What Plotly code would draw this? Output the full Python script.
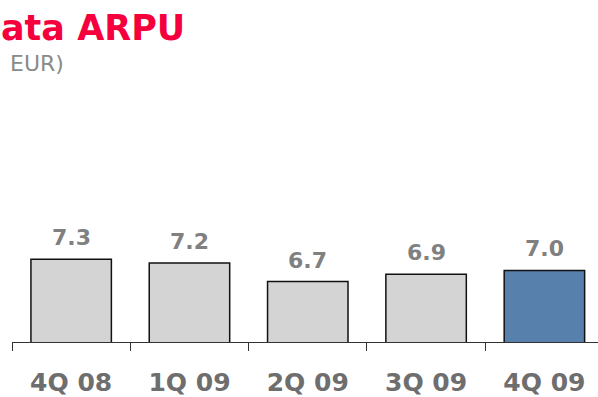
import plotly.graph_objects as go

# ─── 数据 ───────────────────────────────────
quarters = ["4Q 08", "1Q 09", "2Q 09", "3Q 09", "4Q 09"]
arpu = [7.3, 7.2, 6.7, 6.9, 7.0]
labels = ["7.3", "7.2", "6.7", "6.9", "7.0"]
colors = ["#D4D4D4", "#D4D4D4", "#D4D4D4", "#D4D4D4", "#5781AC"]

W, H = 598, 397
ML, MR, MT, MB = 12, 0, 97, 51
pw = W - ML - MR
ph = H - MT - MB

fig = go.Figure()
fig.add_trace(go.Bar(
    x=quarters,
    y=arpu,
    width=0.68,
    marker=dict(color=colors, line=dict(color="#111111", width=1.5)),
    hoverinfo="skip",
))

# 数值标签
for q, v, t in zip(quarters, arpu, labels):
    fig.add_annotation(
        x=q, y=v, text=t, showarrow=False,
        xanchor="center", yanchor="bottom", yshift=7,
        font=dict(family="DejaVu Sans", size=22, color="#808080", weight="bold"),
    )

# 标题（原图左侧被截断，只保留可见部分）
fig.add_annotation(
    xref="paper", yref="paper",
    x=(-1 - ML) / pw, y=(H - MB - 27) / ph,
    text="<b>ata ARPU</b>", showarrow=False,
    xanchor="left", yanchor="middle",
    font=dict(family="DejaVu Sans", size=35, color="#F5003D"),
)
fig.add_annotation(
    xref="paper", yref="paper",
    x=(8 - ML) / pw, y=(H - MB - 63) / ph,
    text="EUR)", showarrow=False,
    xanchor="left", yanchor="middle",
    font=dict(family="DejaVu Sans", size=22, color="#8A8A8A"),
)

fig.update_layout(
    width=W, height=H,
    margin=dict(l=ML, r=MR, t=MT, b=MB),
    paper_bgcolor="white",
    plot_bgcolor="white",
    showlegend=False,
)
fig.update_xaxes(
    range=[-0.5, 4.453],
    showline=True, linecolor="#333333", linewidth=1,
    ticks="outside", tickson="boundaries", ticklen=8, tickcolor="#333333",
    tickfont=dict(family="DejaVu Sans", size=25, color="#6E6E6E", weight="bold"),
    ticklabelstandoff=18,
    showgrid=False,
)
fig.update_yaxes(
    range=[5.065, 11.69],
    visible=False,
    showgrid=False,
)

# 去掉页面 body 的默认边距
fig.write_html(
    "out.html",
    config={"displayModeBar": False},
    post_script="document.body.style.margin='0';",
)
